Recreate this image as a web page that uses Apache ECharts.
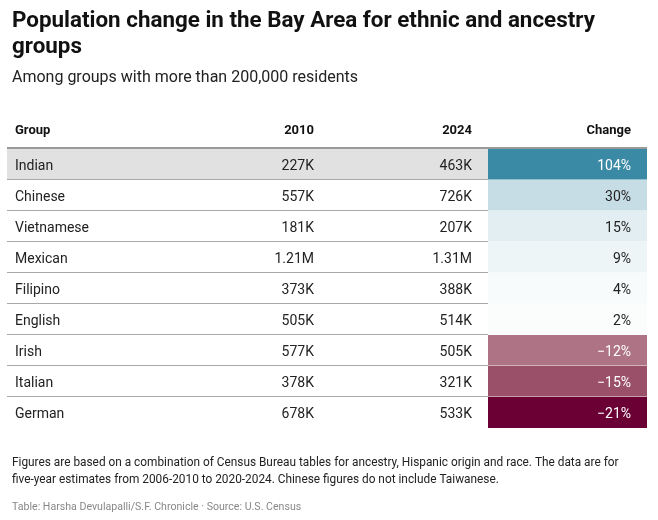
<!DOCTYPE html>
<html>
<head>
<meta charset="utf-8">
<script src="https://cdn.jsdelivr.net/npm/echarts@6/dist/echarts.min.js"></script>
<style>
html,body{margin:0;padding:0;background:#fff;}
#chart{width:658px;height:520px;}
</style>
</head>
<body>
<div id="chart"></div>
<script>
const groups = ['Indian','Chinese','Vietnamese','Mexican','Filipino','English','Irish','Italian','German'];
const pop2010 = [227000, 557000, 181000, 1210000, 373000, 505000, 577000, 378000, 678000];
const pop2024 = [463000, 726000, 207000, 1310000, 388000, 514000, 505000, 321000, 533000];
const changePct = [104, 30, 15, 9, 4, 2, -12, -15, -21];
const columnHeaders = ['Group', '2010', '2024', 'Change'];

const FONT = 'Roboto, "Noto Sans", sans-serif';
const L = { left: 7, width: 640, top: 149, rowH: 31, colGroup: 8, col2010: 307, col2024: 465, cellX: 481, colChange: 624, textDy: 1.5 };

// diverging colour scale stops
const posStops = [[0, '#ffffff'], [104, '#3a8aa6']];
const negStops = [[-21, '#6b0035'], [-15, '#9a5068'], [-12, '#ae7485'], [0, '#ffffff']];
function scaleColor(v) {
  const stops = v >= 0 ? posStops : negStops;
  for (let i = 0; i < stops.length - 1; i++) {
    const a = stops[i], b = stops[i + 1];
    if (v >= a[0] && v <= b[0]) {
      const t = (v - a[0]) / (b[0] - a[0]);
      return echarts.color.lerp(t, [a[1], b[1]]);
    }
  }
  return v >= 0 ? posStops[posStops.length - 1][1] : negStops[0][1];
}
function fmtPop(v) {
  return v >= 1e6 ? (v / 1e6).toFixed(2) + 'M' : Math.round(v / 1000) + 'K';
}
function fmtPct(v) {
  return (v < 0 ? '\u2212' + Math.abs(v) : v) + '%';
}

const data = groups.map((g, i) => [i, pop2010[i], pop2024[i], changePct[i]]);

const chart = echarts.init(document.getElementById('chart'), null, { renderer: 'canvas' });
chart.setOption({
  animation: false,
  backgroundColor: '#fff',
  title: [
    { text: 'Population change in the Bay Area for ethnic and ancestry\ngroups', left: 7, top: 3,
      textStyle: { fontFamily: FONT, fontSize: 22.4, fontWeight: 'bold', color: '#111', lineHeight: 26 } },
    { text: 'Among groups with more than 200,000 residents', left: 7, top: 65,
      textStyle: { fontFamily: FONT, fontSize: 16, fontWeight: 'normal', color: '#222' } },
    { text: 'Figures are based on a combination of Census Bureau tables for ancestry, Hispanic origin and race. The data are for\nfive-year estimates from 2006-2010 to 2020-2024. Chinese figures do not include Taiwanese.', left: 7, top: 450,
      textStyle: { fontFamily: FONT, fontSize: 11.85, fontWeight: 'normal', color: '#222', lineHeight: 17 } },
    { text: 'Table: Harsha Devulapalli/S.F. Chronicle \u00b7 Source: U.S. Census', left: 7, top: 497,
      textStyle: { fontFamily: FONT, fontSize: 10.6, fontWeight: 'normal', color: '#888' } }
  ],
  grid: { left: L.left, width: L.width, top: L.top, height: L.rowH * groups.length },
  xAxis: { type: 'value', min: 0, max: L.width, show: false },
  yAxis: { type: 'category', data: groups, inverse: true, show: false },
  graphic: [
    { type: 'text', left: 15, top: 124, style: { text: columnHeaders[0], font: 'bold 13px ' + FONT, fill: '#111' } },
    { type: 'text', right: 658 - 314, top: 124, style: { text: columnHeaders[1], font: 'bold 13px ' + FONT, fill: '#111', textAlign: 'right' } },
    { type: 'text', right: 658 - 472, top: 124, style: { text: columnHeaders[2], font: 'bold 13px ' + FONT, fill: '#111', textAlign: 'right' } },
    { type: 'text', right: 658 - 631, top: 124, style: { text: columnHeaders[3], font: 'bold 13px ' + FONT, fill: '#111', textAlign: 'right' } },
    { type: 'rect', shape: { x: L.left, y: L.top - 2, width: L.width, height: 2 }, style: { fill: '#9a9a9a' }, z: 10 }
  ],
  series: [{
    type: 'custom',
    coordinateSystem: 'cartesian2d',
    encode: { x: 1, y: 0 },
    data: data,
    renderItem: function (params, api) {
      const idx = api.value(0);
      const c = api.coord([0, idx]);
      const h = api.size([0, 1])[1];
      const x0 = c[0];
      const yTop = c[1] - h / 2;
      const yMid = c[1] + L.textDy;
      const xAt = v => api.coord([v, idx])[0];
      const chg = api.value(3);
      const children = [];
      if (idx === 0) {
        children.push({ type: 'rect', shape: { x: x0, y: yTop, width: xAt(L.cellX) - x0, height: h }, style: { fill: '#e1e1e1' } });
      }
      children.push({ type: 'rect', shape: { x: xAt(L.cellX), y: yTop, width: xAt(L.width) - xAt(L.cellX), height: h }, style: { fill: scaleColor(chg) } });
      if (idx < groups.length - 1) {
        children.push({ type: 'rect', shape: { x: x0, y: yTop + h - 1, width: xAt(L.cellX) - x0, height: 1 }, style: { fill: '#a8a8a8' } });
        children.push({ type: 'rect', shape: { x: xAt(L.cellX), y: yTop + h - 1, width: xAt(L.width) - xAt(L.cellX), height: 1 }, style: { fill: 'rgba(255,255,255,0.45)' } });
      }
      const txt = { font: '14px ' + FONT, fill: '#222', textVerticalAlign: 'middle' };
      children.push({ type: 'text', style: Object.assign({}, txt, { text: groups[idx], x: xAt(L.colGroup), y: yMid, textAlign: 'left' }) });
      children.push({ type: 'text', style: Object.assign({}, txt, { text: fmtPop(api.value(1)), x: xAt(L.col2010), y: yMid, textAlign: 'right' }) });
      children.push({ type: 'text', style: Object.assign({}, txt, { text: fmtPop(api.value(2)), x: xAt(L.col2024), y: yMid, textAlign: 'right' }) });
      children.push({ type: 'text', style: Object.assign({}, txt, { text: fmtPct(chg), x: xAt(L.colChange), y: yMid, textAlign: 'right', fill: (chg > 50 || chg < -10) ? '#ffffff' : '#222' }) });
      return { type: 'group', children: children };
    }
  }]
});
</script>
</body>
</html>
